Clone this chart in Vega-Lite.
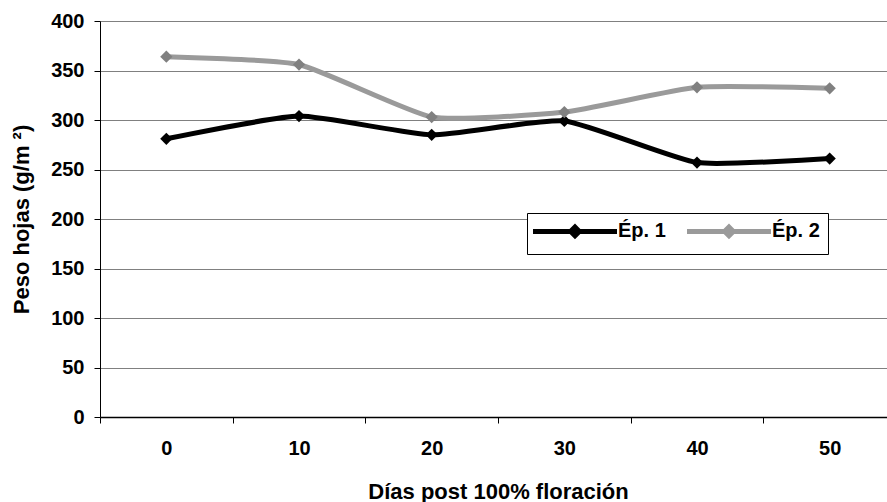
{
  "$schema": "https://vega.github.io/schema/vega-lite/v6.json",
  "autosize": "none",
  "width": 796,
  "height": 396,
  "padding": {"left": 100, "top": 21, "right": -9, "bottom": 85},
  "background": "white",
  "config": {
    "font": "Liberation Sans",
    "view": {"stroke": null}
  },
  "data": {
    "values": [
      {"dia": "0", "serie": "Ép. 1", "peso": 281},
      {"dia": "10", "serie": "Ép. 1", "peso": 304},
      {"dia": "20", "serie": "Ép. 1", "peso": 285},
      {"dia": "30", "serie": "Ép. 1", "peso": 299},
      {"dia": "40", "serie": "Ép. 1", "peso": 257},
      {"dia": "50", "serie": "Ép. 1", "peso": 261},
      {"dia": "0", "serie": "Ép. 2", "peso": 364},
      {"dia": "10", "serie": "Ép. 2", "peso": 356},
      {"dia": "20", "serie": "Ép. 2", "peso": 303},
      {"dia": "30", "serie": "Ép. 2", "peso": 308},
      {"dia": "40", "serie": "Ép. 2", "peso": 333},
      {"dia": "50", "serie": "Ép. 2", "peso": 332}
    ]
  },
  "encoding": {
    "x": {
      "field": "dia",
      "type": "ordinal",
      "sort": null,
      "scale": {"type": "band", "paddingInner": 0, "paddingOuter": 0},
      "axis": {
        "title": "Días post 100% floración",
        "titleFontSize": 22,
        "titleFontWeight": "bold",
        "titleColor": "black",
        "titlePadding": 23,
        "labelAngle": 0,
        "labelFontSize": 20,
        "labelFontWeight": "bold",
        "labelColor": "black",
        "labelPadding": 15,
        "tickBand": "extent",
        "tickSize": 6,
        "tickColor": "black",
        "domainColor": "black",
        "domainWidth": 1.5,
        "grid": false
      }
    },
    "y": {
      "field": "peso",
      "type": "quantitative",
      "scale": {"domain": [0, 400]},
      "axis": {
        "title": "Peso hojas (g/m ²)",
        "titleFontSize": 22,
        "titleFontWeight": "bold",
        "titleColor": "black",
        "titlePadding": 17,
        "values": [0, 50, 100, 150, 200, 250, 300, 350, 400],
        "labelFontSize": 20,
        "labelFontWeight": "bold",
        "labelColor": "black",
        "labelPadding": 10,
        "tickSize": 6,
        "tickColor": "black",
        "domainColor": "black",
        "grid": true,
        "gridColor": "#808080",
        "gridOpacity": 1,
        "gridWidth": 1
      }
    }
  },
  "layer": [
    {
      "mark": {"type": "line", "interpolate": "cardinal", "tension": 0.5, "strokeWidth": 5},
      "encoding": {
        "color": {
          "field": "serie",
          "type": "nominal",
          "scale": {"domain": ["Ép. 1", "Ép. 2"], "range": ["#000000", "#9a9a9a"]},
          "legend": {
            "title": null,
            "orient": "none",
            "direction": "horizontal",
            "legendX": 427,
            "legendY": 192,
            "strokeColor": "black",
            "fillColor": "white",
            "padding": 8,
            "symbolType": "M-2.4,0H14.4M5.15,0L6,-0.85L6.85,0L6,0.85Z",
            "symbolSize": 100,
            "symbolStrokeWidth": 5,
            "labelFontSize": 20,
            "labelFontWeight": "bold",
            "labelColor": "black",
            "labelOffset": 63,
            "columnPadding": 11,
            "labelLimit": 200
          }
        }
      }
    },
    {
      "mark": {"type": "point", "shape": "diamond", "filled": true, "size": 150, "opacity": 1},
      "encoding": {
        "color": {
          "field": "serie",
          "type": "nominal",
          "scale": {"domain": ["Ép. 1", "Ép. 2"], "range": ["#000000", "#808080"]},
          "legend": null
        }
      }
    }
  ],
  "resolve": {"scale": {"color": "independent"}}
}
